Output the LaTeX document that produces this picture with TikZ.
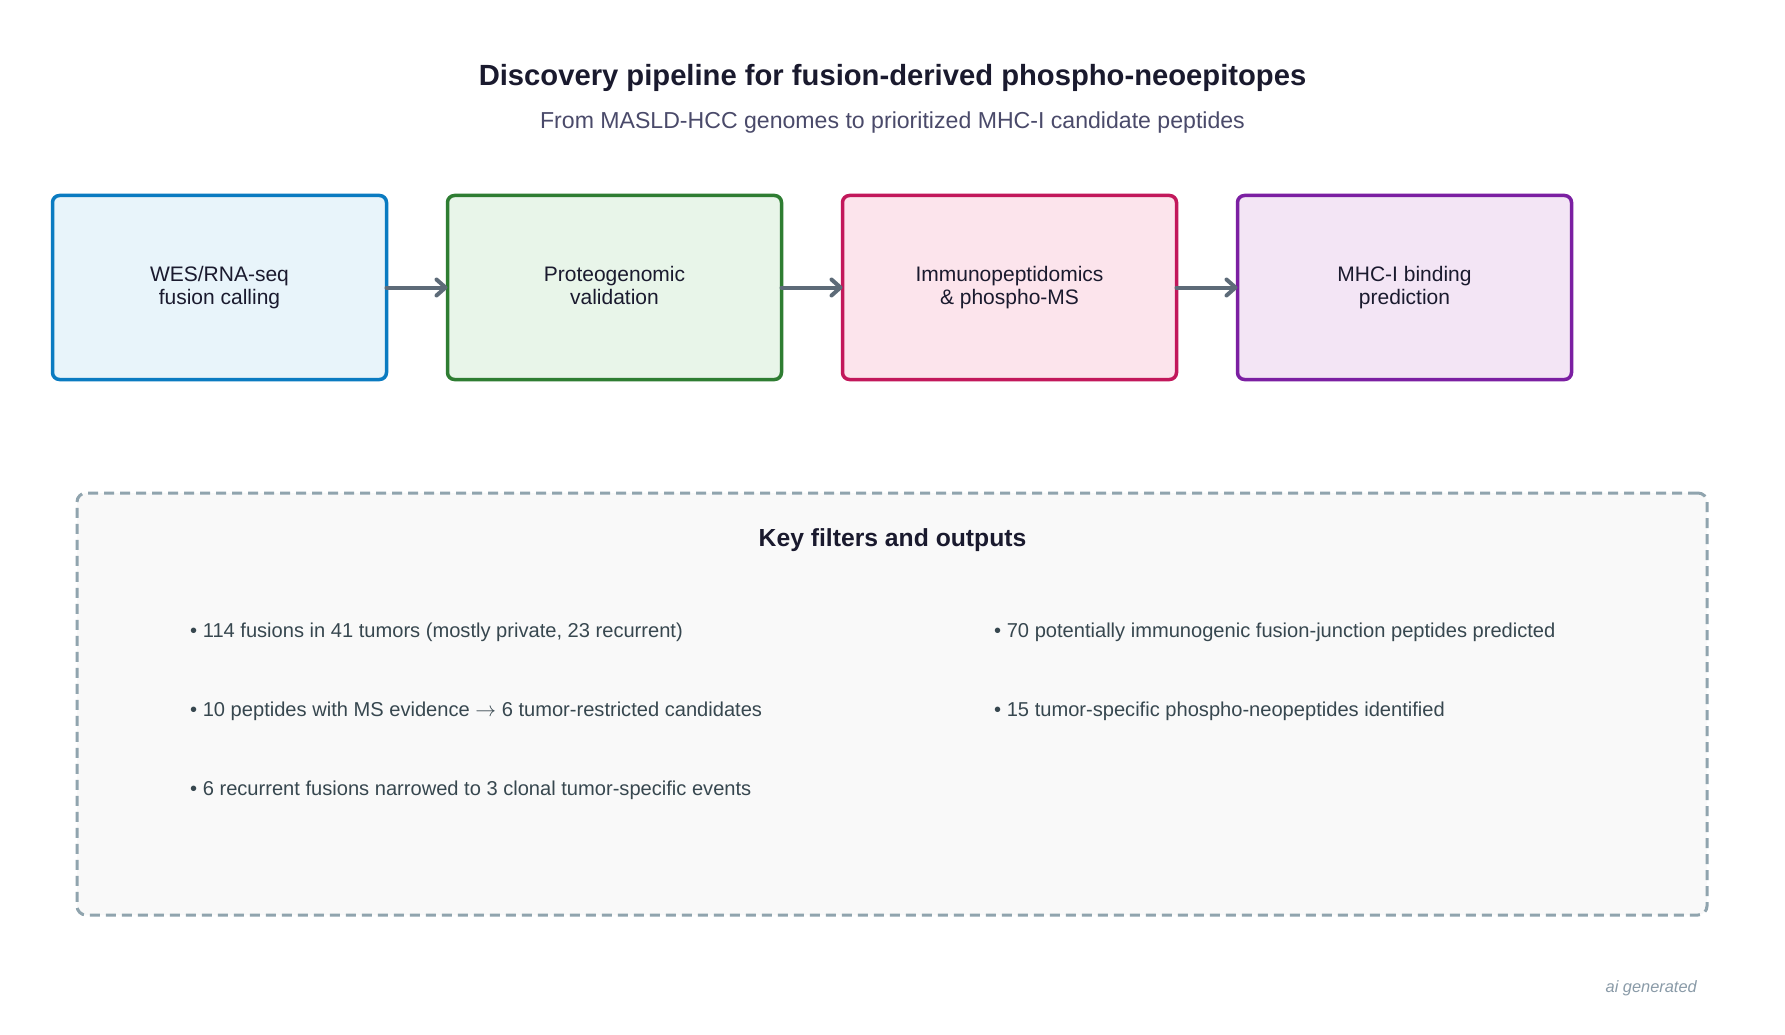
\documentclass[tikz,border=0pt]{standalone}
\usepackage{fontspec}
\setmainfont{Liberation Sans}
\usepackage{xcolor}
\usepackage{tikz}
\usetikzlibrary{positioning,arrows.meta}
\definecolor{titleink}{HTML}{1A1A2E}
\definecolor{subink}{HTML}{4A4A6A}
\definecolor{bulletink}{HTML}{37474F}
\definecolor{linkgray}{HTML}{5D6B78}
\definecolor{panelgray}{HTML}{90A4AE}
\definecolor{panelfill}{HTML}{F9F9F9}
\definecolor{noteink}{HTML}{8A9BA8}
\definecolor{wesline}{HTML}{0A7BC1}
\definecolor{wesfill}{HTML}{E8F4FA}
\definecolor{protline}{HTML}{2E7D32}
\definecolor{protfill}{HTML}{E8F5E9}
\definecolor{immline}{HTML}{C2185B}
\definecolor{immfill}{HTML}{FCE4EC}
\definecolor{mhcline}{HTML}{7B1FA2}
\definecolor{mhcfill}{HTML}{F3E5F5}
\tikzstyle{pipebox} = [draw, line width=3.5pt, rounded corners=7pt, minimum width=334pt, minimum height=184pt, outer sep=0pt, align=center, text=titleink, font=\fontsize{21}{22.5}\selectfont]
\tikzstyle{pipelink} = [draw, line width=4pt, linkgray, line cap=round, -{Straight Barb[length=9pt,width=16pt,line cap=round,line join=round]}]
\tikzstyle{keypanel} = [draw=panelgray, fill=panelfill, line width=3pt, dash pattern=on 10pt off 6pt, rounded corners=9pt, minimum width=1630pt, minimum height=422pt, outer sep=0pt]
\tikzstyle{keyitem} = [anchor=base west, inner sep=0pt, text=bulletink, font=\fontsize{20.1}{24}\selectfont]
\newcommand{\pipestep}[5]{% #1: name; #2: x; #3: line; #4: fill; #5: text
  \node[pipebox, draw=#3, fill=#4] (#1) at (#2,287.5) {\vphantom{Ay}#5\vphantom{gy}};
}

\begin{document}
\begin{tikzpicture}[x=1pt, y=-1pt]
        % page
        \fill[white] (0,0) rectangle (1785,1035);
        \useasboundingbox (0,0) rectangle (1785,1035);
        \node[anchor=base, inner sep=0pt, text=titleink, font=\fontsize{29.2}{35}\selectfont\bfseries] (title) at (892.5,85.5) {Discovery pipeline for fusion-derived phospho-neoepitopes};
        \node[anchor=base, inner sep=0pt, text=subink, font=\fontsize{23.1}{28}\selectfont] (subtitle) at (892.5,129) {From MASLD-HCC genomes to prioritized MHC-I candidate peptides};
        % pipeline
        \pipestep{wes}{219.5}{wesline}{wesfill}{WES/RNA-seq\\fusion calling}
        \pipestep{prot}{614.5}{protline}{protfill}{Proteogenomic\\validation}
        \pipestep{immuno}{1009.5}{immline}{immfill}{Immunopeptidomics\\\& phospho-MS}
        \pipestep{mhc}{1404.5}{mhcline}{mhcfill}{MHC-I binding\\prediction}
        \foreach \a/\b in {wes/prot,prot/immuno,immuno/mhc} { \draw[pipelink] (\a.east) -- (\b.west);}
        % filters
        \node[keypanel] (panel) at (892,704) {};
        \node[anchor=base, inner sep=0pt, text=titleink, font=\fontsize{24.7}{30}\selectfont\bfseries] (keyhead) at (892.5,546) {Key filters and outputs};
        \node[keyitem] (k1) at (190,637) {• 114 fusions in 41 tumors (mostly private, 23 recurrent)};
        \node[keyitem] (k2) at (190,716) {• 10 peptides with MS evidence $\rightarrow$ 6 tumor-restricted candidates};
        \node[keyitem] (k3) at (190,795) {• 6 recurrent fusions narrowed to 3 clonal tumor-specific events};
        \node[keyitem] (k4) at (994,637) {• 70 potentially immunogenic fusion-junction peptides predicted};
        \node[keyitem] (k5) at (994,716) {• 15 tumor-specific phospho-neopeptides identified};
        \node[anchor=base east, inner sep=0pt, text=noteink, font=\fontsize{16.4}{20}\selectfont\itshape] (note) at (1697,992) {ai generated};
      \end{tikzpicture}
\end{document}
